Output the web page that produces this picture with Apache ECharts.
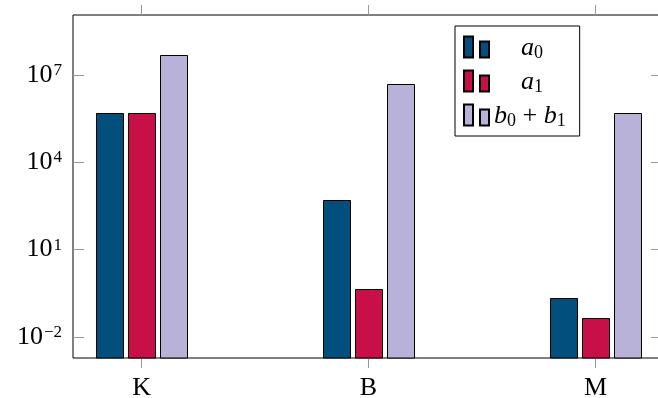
<!DOCTYPE html>
<html><head><meta charset="utf-8">
<script src="https://cdn.jsdelivr.net/npm/echarts@6/dist/echarts.min.js"></script>
<style>html,body{margin:0;padding:0;background:#fff;overflow:hidden}#c{width:658px;height:398px}</style>
</head><body><div id="c"></div>
<script>
const categories = ['K', 'B', 'M'];
const catPositions = [0, 1, 2];
const seriesNames = ['a0', 'a1', 'b0+b1'];
const a0Values = [5e5, 500, 0.22];
const a1Values = [5e5, 0.45, 0.044];
const bValues = [5e7, 5e6, 5e5];
const yTickValues = [1e-2, 1e1, 1e4, 1e7];
const yTickExponents = ['−2', '1', '4', '7'];

const colors = ['#024e7d', '#c70f48', '#b8b2d8'];
const allValues = [a0Values, a1Values, bValues];
const yMin = Math.pow(10, -2.73), yMax = Math.pow(10, 9.07);

const chart = echarts.init(document.getElementById('c'), null, {renderer: 'canvas'});
const serif = 'Liberation Serif';
const tickStyle = {color: '#999', width: 1};

function yLabel(v) {
  let best = 0, d = Infinity;
  yTickValues.forEach((t, i) => { const dd = Math.abs(Math.log10(t) - Math.log10(v)); if (dd < d) { d = dd; best = i; } });
  return '{b|10}{e|' + yTickExponents[best] + '}';
}

const legendLabels = {
  'a0': '{i|a}{s|0}',
  'a1': '{i|a}{s|1}',
  'b0+b1': '{j|b}{s|0}{o| + }{j|b}{s|1}'
};

const xBase = {
  type: 'value', min: -0.302, max: 2.293,
  splitLine: {show: false},
  axisLine: {show: false, onZero: false},
  axisTick: {show: true, inside: false, length: 10, lineStyle: tickStyle, customValues: catPositions},
};
const yBase = {
  type: 'log', logBase: 10, min: yMin, max: yMax,
  splitLine: {show: false},
  axisLine: {show: false, onZero: false},
  axisTick: {show: true, inside: true, length: 11, lineStyle: tickStyle, customValues: yTickValues},
};

const barW = 27, barStep = 32;

chart.setOption({
  animation: false,
  grid: {left: 73, right: -4, top: 15, bottom: 40, show: true, borderColor: '#000', borderWidth: 1,
    backgroundColor: 'transparent', containLabel: false, outerBoundsMode: 'none'},
  xAxis: [
    Object.assign({}, xBase, {position: 'bottom',
      axisLabel: {show: true, customValues: catPositions, margin: 17, fontFamily: serif, fontSize: 26, color: '#000',
        formatter: v => categories[Math.round(v)]}}),
    Object.assign({}, xBase, {position: 'top', axisLabel: {show: false}})
  ],
  yAxis: [
    Object.assign({}, yBase, {position: 'left',
      axisLabel: {show: true, customValues: yTickValues, margin: 10, formatter: yLabel,
        rich: {
          b: {fontFamily: serif, fontSize: 26, lineHeight: 26, color: '#000', verticalAlign: 'bottom', padding: [9, 0, 0, 0]},
          e: {fontFamily: serif, fontSize: 17, lineHeight: 17, color: '#000', verticalAlign: 'top', padding: [0, 1, 10, 1]}
        }}}),
    Object.assign({}, yBase, {position: 'right', axisLabel: {show: false}})
  ],
  legend: {
    orient: 'vertical', left: 455, top: 26,
    padding: [6, 14, 6, 8], itemGap: 4,
    itemWidth: 25, itemHeight: 21,
    icon: 'path://M0,0h9v21h-9z M16,5h9v16h-9z',
    borderColor: '#000', borderWidth: 1, backgroundColor: '#fff', borderRadius: 0,
    data: seriesNames,
    formatter: n => legendLabels[n],
    textStyle: {
      rich: {
        i: {fontFamily: serif, fontStyle: 'italic', fontSize: 26, lineHeight: 24, color: '#000', padding: [2, 0, 0, 27]},
        j: {fontFamily: serif, fontStyle: 'italic', fontSize: 26, lineHeight: 24, color: '#000', padding: [2, 0, 0, 0]},
        s: {fontFamily: serif, fontSize: 18, lineHeight: 18, color: '#000', padding: [12, 0, 0, 0]},
        o: {fontFamily: serif, fontSize: 26, lineHeight: 24, color: '#000', padding: [2, 0, 0, 0]}
      }
    }
  },
  series: seriesNames.map((name, k) => ({
    name: name, type: 'custom', xAxisIndex: 0, yAxisIndex: 0,
    itemStyle: {color: colors[k], borderColor: '#000', borderWidth: 1},
    encode: {x: 0, y: 1},
    renderItem: function (params, api) {
      const p = api.coord([api.value(0), api.value(1)]);
      const b = api.coord([api.value(0), yMin]);
      const cx = p[0] + (k - 1) * barStep;
      const x0 = Math.round(cx - barW / 2) + 0.5;
      const y0 = Math.round(p[1]) + 0.5;
      return {
        type: 'rect',
        shape: {x: x0, y: y0, width: barW, height: b[1] - y0},
        style: {fill: colors[k], stroke: '#000', lineWidth: 1}
      };
    },
    data: catPositions.map((p, i) => [p, allValues[k][i]])
  }))
});
</script></body></html>
